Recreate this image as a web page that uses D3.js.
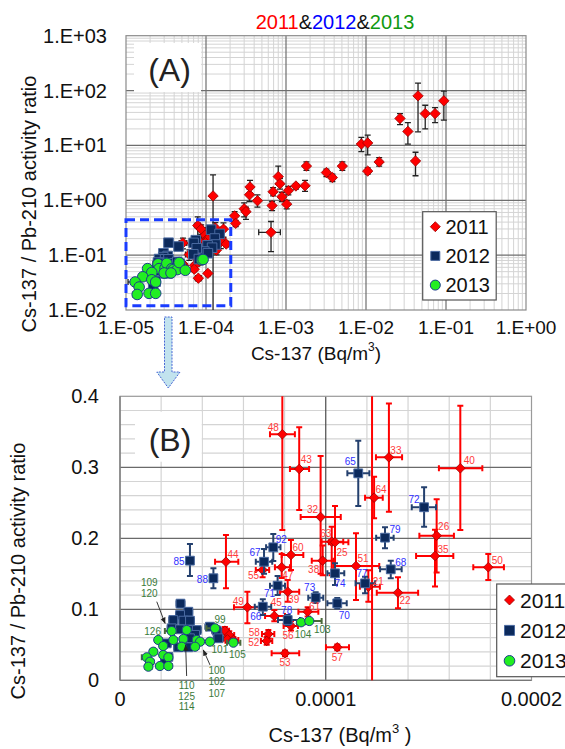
<!DOCTYPE html>
<html><head><meta charset="utf-8">
<script src="https://cdn.jsdelivr.net/npm/d3@7"></script>
<style>
body{margin:0;background:#fff}
svg{display:block}
text{font-family:"Liberation Sans",Arial,Helvetica,sans-serif}
</style>
</head><body>
<svg id="chart" width="565" height="749"></svg>
<script>
// ---------------- DATA ----------------
const years = ["2011", "2012", "2013"];
// rows: [label, x (Bq/m3), y (ratio), xLo, xHi, yLo, yHi]  (null = no error bar)
const data2011 = [
  ["48", 78.9e-6, 0.3465, 72.9e-6, 85.0e-6, 0.2117, 0.50],
  ["43", 87.1e-6, 0.2976, 82.6e-6, 91.9e-6, 0.2399, 0.3563],
  ["32", 97.5e-6, 0.230, 87.8e-6, 107.3e-6, 0.150, 0.3159],
  ["63", 102.9e-6, 0.1952, 98.0e-6, 108.5e-6, 0.148, 0.2163],
  ["25", 104.5e-6, 0.1944, 101.5e-6, 111.0e-6, 0.150, 0.2455],
  ["38", 98.5e-6, 0.1685, 93.2e-6, 103.7e-6, 0.148, 0.190],
  ["51", 114.7e-6, 0.161, 103.7e-6, 126.0e-6, 0.113, 0.207],
  ["64", 123.5e-6, 0.2572, 119.1e-6, 127.7e-6, 0.2282, 0.2868],
  ["33", 130.7e-6, 0.314, 124.4e-6, 137.1e-6, 0.2375, 0.390],
  ["40", 165.4e-6, 0.2986, 155.0e-6, 176.1e-6, 0.2117, 0.3868],
  ["26", 153.9e-6, 0.2037, 145.5e-6, 162.3e-6, 0.152, 0.2549],
  ["35", 153.1e-6, 0.1751, 143.9e-6, 162.0e-6, 0.132, 0.212],
  ["50", 179.0e-6, 0.1592, 171.7e-6, 186.6e-6, 0.1413, 0.1779],
  ["22", 135.1e-6, 0.1234, 124.8e-6, 144.9e-6, 0.1014, 0.1451],
  ["21", 120.7e-6, 0.1318, 116.6e-6, 126.3e-6, 0.1107, 0.155],
  ["60", 83.1e-6, 0.1765, 78.6e-6, 89.1e-6, 0.1554, 0.1976],
  ["55", 69.3e-6, 0.1554, 66.0e-6, 72.5e-6, 0.145, 0.166],
  ["47", 78.6e-6, 0.1592, 75.3e-6, 82.6e-6, 0.144, 0.178],
  ["39", 81.5e-6, 0.1248, 77.8e-6, 87.1e-6, 0.1107, 0.1413],
  ["45", 75.0e-6, 0.0906, 70.5e-6, 80.2e-6, 0.083, 0.099],
  ["61", 91.2e-6, 0.0966, 86.7e-6, 96.4e-6, 0.090, 0.103],
  ["56", 83.1e-6, 0.0765, 79.5e-6, 86.5e-6, 0.070, 0.083],
  ["58", 72.1e-6, 0.0652, 69.0e-6, 75.0e-6, 0.059, 0.071],
  ["52", 71.3e-6, 0.0554, 68.5e-6, 74.0e-6, 0.050, 0.061],
  ["53", 80.2e-6, 0.038, 73.7e-6, 87.1e-6, 0.034, 0.042],
  ["57", 105.6e-6, 0.0465, 100.1e-6, 111.3e-6, 0.0425, 0.0505],
  ["49", 61.9e-6, 0.1028, 55.4e-6, 68.0e-6, 0.0803, 0.1248],
  ["44", 51.5e-6, 0.167, 46.2e-6, 57.5e-6, 0.1296, 0.2046],
  ["", 51.0e-6, 0.0699, 49.0e-6, 53.0e-6, 0.065, 0.075],
  ["", 53.1e-6, 0.0638, 51.0e-6, 55.5e-6, 0.059, 0.069],
  ["", 52.2e-6, 0.0577, 50.0e-6, 54.5e-6, 0.053, 0.062],
  ["", 55.1e-6, 0.0568, 53.0e-6, 57.5e-6, 0.052, 0.061],
  ["", 122.5e-6, 1.2, null, null, -1, 2.9],
  ["", 2.28e-4, 0.52, null, null, 0.41, 0.62],
  ["", 2.35e-4, 0.38, null, null, 0.33, 0.43],
  ["", 3.0e-4, 0.70, null, null, 0.50, 0.90],
  ["", 3.16e-4, 0.62, null, null, 0.45, 0.75],
  ["", 3.5e-4, 1.26, null, null, 0.95, 1.6],
  ["", 3.55e-4, 1.75, null, null, 1.35, 2.3],
  ["", 4.4e-4, 0.98, null, null, 0.75, 1.25],
  ["", 6.7e-4, 0.80, null, null, 0.65, 0.95],
  ["", 6.5e-4, 0.26, 4.56e-4, 8.5e-4, 0.116, 0.41],
  ["", 6.9e-4, 1.43, null, null, 1.2, 1.7],
  ["", 8.0e-4, 2.7, null, null, 2.0, 4.2],
  ["", 8.4e-4, 2.0, null, null, 1.6, 2.5],
  ["", 8.9e-4, 1.16, null, null, 0.95, 1.4],
  ["", 1.02e-3, 0.85, null, null, 0.7, 1.0],
  ["", 1.07e-3, 1.5, null, null, 1.25, 1.8],
  ["", 1.33e-3, 1.82, null, null, 1.6, 2.0],
  ["", 1.73e-3, 1.84, null, null, 1.45, 2.3],
  ["", 1.8e-3, 4.2, null, null, 3.5, 5.0],
  ["", 3.2e-3, 3.2, null, null, 2.7, 3.7],
  ["", 3.8e-3, 2.6, null, null, 2.2, 3.0],
  ["", 5.06e-3, 4.2, null, null, 3.5, 5.0],
  ["", 8.75e-3, 10.6, null, null, 7.7, 14],
  ["", 1.05e-2, 11.1, null, null, 6.7, 15.4],
  ["", 1.05e-2, 3.4, null, null, 3.0, 3.9],
  ["", 1.46e-2, 5.0, null, null, 4.2, 6.0],
  ["", 2.66e-2, 31, null, null, 24, 38],
  ["", 3.34e-2, 18, null, null, 10.6, 26],
  ["", 4.16e-2, 5.2, null, null, 2.8, 7.5],
  ["", 4.47e-2, 80, null, null, 17.7, 137],
  ["", 5.5e-2, 38, null, null, 20, 54],
  ["", 7.3e-2, 38, null, null, 26, 49],
  ["", 9.4e-2, 65, null, null, 29, 98]
];
const data2012 = [
  ["65", 115.8e-6, 0.2915, 110.5e-6, 121.2e-6, 0.2455, 0.3375],
  ["72", 147.8e-6, 0.2437, 141.8e-6, 153.6e-6, 0.2163, 0.2718],
  ["79", 128.8e-6, 0.2009, 124.5e-6, 133.0e-6, 0.186, 0.2155],
  ["68", 131.6e-6, 0.1563, 126.4e-6, 136.9e-6, 0.1437, 0.1685],
  ["92", 74.5e-6, 0.1873, 71.0e-6, 78.0e-6, 0.168, 0.206],
  ["67", 70.0e-6, 0.167, 66.0e-6, 74.0e-6, 0.150, 0.185],
  ["74", 104.5e-6, 0.1507, 100.8e-6, 109.0e-6, 0.1342, 0.1648],
  ["77", 119.1e-6, 0.1366, 114.5e-6, 124.0e-6, 0.1225, 0.146],
  ["73", 95.1e-6, 0.1164, 91.5e-6, 98.8e-6, 0.109, 0.124],
  ["70", 105.6e-6, 0.1084, 100.8e-6, 110.2e-6, 0.101, 0.116],
  ["71", 76.6e-6, 0.1333, 72.9e-6, 80.2e-6, 0.120, 0.147],
  ["66", 69.4e-6, 0.1037, 65.5e-6, 73.5e-6, 0.092, 0.114],
  ["78", 81.5e-6, 0.0849, 76.8e-6, 87.5e-6, 0.078, 0.092],
  ["85", 34.0e-6, 0.1685, null, null, 0.1469, 0.192],
  ["88", 45.4e-6, 0.1437, null, null, 0.1296, 0.1577],
  ["", 29.4e-6, 0.108, 27.5e-6, 31.3e-6, 0.103, 0.113],
  ["", 33.2e-6, 0.0966, 31.3e-6, 35.1e-6, 0.092, 0.101],
  ["", 29.2e-6, 0.092, 27.3e-6, 31.1e-6, 0.088, 0.096],
  ["", 25.9e-6, 0.0849, 24.0e-6, 27.8e-6, 0.081, 0.089],
  ["", 30.8e-6, 0.084, 28.9e-6, 32.7e-6, 0.080, 0.088],
  ["", 34.0e-6, 0.084, 32.1e-6, 35.9e-6, 0.080, 0.088],
  ["", 25.1e-6, 0.0732, 23.2e-6, 27.0e-6, 0.069, 0.077],
  ["", 29.2e-6, 0.0718, 27.3e-6, 31.1e-6, 0.068, 0.076],
  ["", 33.2e-6, 0.0708, 31.3e-6, 35.1e-6, 0.067, 0.075],
  ["", 37.3e-6, 0.0708, 35.4e-6, 39.2e-6, 0.067, 0.075],
  ["", 36.5e-6, 0.064, 34.6e-6, 38.4e-6, 0.060, 0.068],
  ["", 34.0e-6, 0.0592, 32.1e-6, 35.9e-6, 0.055, 0.063],
  ["", 28.3e-6, 0.0465, 26.4e-6, 30.2e-6, 0.043, 0.050],
  ["", 33.2e-6, 0.0465, 31.3e-6, 35.1e-6, 0.043, 0.050],
  ["", 22.7e-6, 0.052, 20.8e-6, 24.6e-6, 0.048, 0.056],
  ["", 23.5e-6, 0.033, 21.6e-6, 25.4e-6, 0.030, 0.036],
  ["", 21.9e-6, 0.0286, 20.0e-6, 23.8e-6, 0.026, 0.031],
  ["", 43.7e-6, 0.0755, 41.5e-6, 45.9e-6, 0.071, 0.080],
  ["", 47.0e-6, 0.0699, 44.8e-6, 49.2e-6, 0.066, 0.074],
  ["", 47.8e-6, 0.0592, 45.6e-6, 50.0e-6, 0.055, 0.063]
];
const data2013 = [
  ["126", 25.1e-6, 0.0694, 21.8e-6, 27.0e-6, 0.066, 0.073],
  ["", 18.6e-6, 0.0568, 17.0e-6, 20.2e-6, 0.054, 0.060],
  ["", 25.9e-6, 0.0568, 24.3e-6, 27.5e-6, 0.054, 0.060],
  ["", 30.8e-6, 0.0582, 29.2e-6, 32.4e-6, 0.055, 0.061],
  ["", 32.4e-6, 0.0708, 30.8e-6, 34.0e-6, 0.068, 0.074],
  ["", 37.3e-6, 0.0568, 35.7e-6, 38.9e-6, 0.054, 0.060],
  ["", 38.9e-6, 0.0544, 37.3e-6, 40.5e-6, 0.052, 0.057],
  ["101", 43.7e-6, 0.0544, 42.1e-6, 45.3e-6, 0.052, 0.057],
  ["99", 46.2e-6, 0.0732, 42.0e-6, 48.0e-6, 0.070, 0.076],
  ["105", 55.1e-6, 0.0530, 52.0e-6, 58.5e-6, 0.050, 0.056],
  ["", 21.0e-6, 0.0483, 19.4e-6, 22.6e-6, 0.046, 0.051],
  ["", 30.0e-6, 0.0473, 28.4e-6, 31.6e-6, 0.045, 0.050],
  ["", 36.5e-6, 0.0473, 34.9e-6, 38.1e-6, 0.045, 0.050],
  ["", 16.2e-6, 0.0403, 14.6e-6, 17.8e-6, 0.038, 0.043],
  ["", 21.0e-6, 0.0356, 19.4e-6, 22.6e-6, 0.033, 0.038],
  ["", 13.0e-6, 0.0324, 10.6e-6, 14.6e-6, 0.030, 0.035],
  ["", 23.5e-6, 0.0324, 21.9e-6, 25.1e-6, 0.030, 0.035],
  ["", 14.6e-6, 0.0262, 13.0e-6, 16.2e-6, 0.024, 0.028],
  ["", 13.8e-6, 0.0192, 12.2e-6, 15.4e-6, 0.017, 0.021],
  ["", 19.4e-6, 0.0201, 17.8e-6, 21.0e-6, 0.018, 0.022],
  ["", 23.5e-6, 0.0201, 21.9e-6, 25.1e-6, 0.018, 0.022],
  ["104", 88.0e-6, 0.0817, 86.0e-6, 90.0e-6, 0.079, 0.084],
  ["103", 92.0e-6, 0.0835, 88.0e-6, 98.0e-6, 0.081, 0.086]
];
// grouped annotations (labels with arrows) for 2013 points
const annotLabels = [["109", "120"], ["110", "125", "114"], ["100", "102", "107"]];
const annotTargets = [[21.9e-6, 0.0803], [31.9e-6, 0.0497], [40.5e-6, 0.0427]];
// tick values / labels
const xTicksA = [1e-5, 1e-4, 1e-3, 1e-2, 1e-1, 1];
const xTickLabelsA = ["1.E-05", "1.E-04", "1.E-03", "1.E-02", "1.E-01", "1.E+00"];
const yTicksA = [1e-2, 1e-1, 1, 10, 100, 1000];
const yTickLabelsA = ["1.E-02", "1.E-01", "1.E+00", "1.E+01", "1.E+02", "1.E+03"];
const xTicksB = [0, 0.0001, 0.0002];
const xTickLabelsB = ["0", "0.0001", "0.0002"];
const yTicksB = [0, 0.1, 0.2, 0.3, 0.4];
const yTickLabelsB = ["0", "0.1", "0.2", "0.3", "0.4"];
// zoom region box of panel A (data coords)
const zoomBoxX = [1e-5, 2.04e-4];
const zoomBoxY = [0.012, 0.44];

// ---------------- STYLE / LAYOUT ----------------
const seriesStyle = {
  "2011": {shape: "diamond", fill: "#ff0000", stroke: "#9a0000", errB: "#ff0000", label: "#ff3a3a"},
  "2012": {shape: "square", fill: "#0c2a5c", stroke: "#4a6aa0", errB: "#24406e", label: "#3030ff"},
  "2013": {shape: "circle", fill: "#22ee22", stroke: "#1c3c8c", errB: "#4a6a3a", label: "#3a7a3a"}
};
// label offsets (dx, dy) relative to marker, px
const labelOffset = {
  "2011": {"48":[-9,-7],"43":[7,-10],"32":[-8,-8],"63":[-6,-8],"25":[7,10],"38":[-9,9],"51":[7,-7],
    "64":[7,-8],"33":[7,-7],"40":[9,-8],"26":[7,-9],"35":[8,-6],"50":[9,-7],"22":[7,8],"21":[10,-5],
    "60":[7,-7],"55":[-9,6],"47":[6,8],"39":[6,8],"45":[2,-13],"61":[7,-5],"56":[-3,10],"58":[-14,-2],
    "52":[-13,2],"53":[0,9],"57":[0,10],"49":[-9,-6],"44":[7,-7]},
  "2012": {"65":[-8,-12],"72":[-10,-8],"79":[10,-8],"68":[10,-7],"92":[8,-8],"67":[-9,-9],"74":[5,10],
    "77":[-3,-10],"73":[-6,-10],"70":[7,12],"71":[-8,8],"66":[-7,10],"78":[-1,-10],"85":[-11,1],"88":[-11,1]},
  "2013": {"126":[-19,0],"99":[5,-9],"101":[10,8],"105":[4,12],"104":[2,12],"103":[13,8]}
};
const annotLayout = [ // text anchor (offset from target), arrow start offset
  {tx: -15.7, ty: -40.6, lineH: 10.6, ax: -8.3, ay: -21.6},
  {tx: 1.0, ty: 40.7, lineH: 10.5, ax: 1.0, ay: 31},
  {tx: 13.4, ty: 20.7, lineH: 11.3, ax: 6.7, ay: 15}
];

const svg = d3.select("#chart");
const seriesData = {"2011": data2011, "2012": data2012, "2013": data2013};
const rows = arr => arr.map(r => ({label: r[0], x: r[1], y: r[2], xlo: r[3], xhi: r[4], ylo: r[5], yhi: r[6]}));

const defs = svg.append("defs");
defs.append("marker").attr("id", "ah").attr("viewBox", "0 0 10 10").attr("refX", 9).attr("refY", 5)
  .attr("markerWidth", 7).attr("markerHeight", 7).attr("orient", "auto-start-reverse")
  .append("path").attr("d", "M0,1 L10,5 L0,9 Z").attr("fill", "#222");

function markerPath(shape, s) {
  if (shape === "diamond") return `M0,${-s}L${s},0L0,${s}L${-s},0Z`;
  if (shape === "square") return `M${-s},${-s}H${s}V${s}H${-s}Z`;
  return null;
}
function drawMarker(g, shape, x, y, size, st) {
  if (shape === "circle") {
    g.append("circle").attr("cx", x).attr("cy", y).attr("r", size)
      .attr("fill", st.fill).attr("stroke", st.stroke).attr("stroke-width", 1);
  } else {
    g.append("path").attr("transform", `translate(${x},${y})`).attr("d", markerPath(shape, size))
      .attr("fill", st.fill).attr("stroke", st.stroke).attr("stroke-width", shape === "square" ? 1 : 0.8);
  }
}

// ---------------- PANEL A (log-log) ----------------
const xA = d3.scaleLog().domain([1e-5, 1]).range([126, 526]);
const yA = d3.scaleLog().domain([0.01, 1000]).range([310, 35.7]);
const gA = svg.append("g");
defs.append("clipPath").attr("id", "clipA").append("rect")
  .attr("x", 126).attr("y", 35.7).attr("width", 400).attr("height", 274.3);

gA.append("rect").attr("x", 126).attr("y", 35.7).attr("width", 400).attr("height", 274.3).attr("fill", "#fff");
// minor grid
const minorX = [], minorY = [];
for (let e = -5; e < 0; e++) for (let k = 2; k <= 9; k++) minorX.push(k * Math.pow(10, e));
for (let e = -2; e < 3; e++) for (let k = 2; k <= 9; k++) minorY.push(k * Math.pow(10, e));
gA.append("g").selectAll("line").data(minorX).join("line")
  .attr("x1", d => xA(d)).attr("x2", d => xA(d)).attr("y1", 35.7).attr("y2", 310)
  .attr("stroke", "#d4d4d4").attr("stroke-width", 1);
gA.append("g").selectAll("line").data(minorY).join("line")
  .attr("y1", d => yA(d)).attr("y2", d => yA(d)).attr("x1", 126).attr("x2", 526)
  .attr("stroke", "#d4d4d4").attr("stroke-width", 1);
gA.append("g").selectAll("line").data(xTicksA.slice(1, -1)).join("line")
  .attr("x1", d => xA(d)).attr("x2", d => xA(d)).attr("y1", 35.7).attr("y2", 310)
  .attr("stroke", "#6e6e6e").attr("stroke-width", 1.2);
gA.append("g").selectAll("line").data(yTicksA.slice(1, -1)).join("line")
  .attr("y1", d => yA(d)).attr("y2", d => yA(d)).attr("x1", 126).attr("x2", 526)
  .attr("stroke", "#6e6e6e").attr("stroke-width", 1.2);
gA.append("rect").attr("x", 126).attr("y", 35.7).attr("width", 400).attr("height", 274.3)
  .attr("fill", "none").attr("stroke", "#8a8a8a").attr("stroke-width", 1.2);

// (A) label box
gA.append("rect").attr("x", 134).attr("y", 43).attr("width", 67).attr("height", 49).attr("fill", "#fff");
gA.append("text").attr("x", 169.5).attr("y", 70).attr("text-anchor", "middle").attr("dominant-baseline", "central")
  .attr("font-size", 32).attr("fill", "#222").text("(A)");

// error bars + markers A
const plotA = gA.append("g").attr("clip-path", "url(#clipA)");
years.forEach(yr => {
  const st = seriesStyle[yr];
  const d = rows(seriesData[yr]);
  const eg = plotA.append("g").attr("stroke", "#222").attr("stroke-width", 1.3);
  d.forEach(p => {
    const cx = xA(p.x), cy = yA(p.y);
    if (p.ylo !== null) {
      const y1 = p.ylo > 0 ? yA(p.ylo) : 330, y2 = yA(p.yhi);
      eg.append("line").attr("x1", cx).attr("x2", cx).attr("y1", y1).attr("y2", y2);
      if (p.ylo > 0) eg.append("line").attr("x1", cx - 3).attr("x2", cx + 3).attr("y1", y1).attr("y2", y1);
      eg.append("line").attr("x1", cx - 3).attr("x2", cx + 3).attr("y1", y2).attr("y2", y2);
    }
    if (p.xlo !== null) {
      const x1 = xA(p.xlo), x2 = xA(p.xhi);
      eg.append("line").attr("x1", x1).attr("x2", x2).attr("y1", cy).attr("y2", cy);
      eg.append("line").attr("x1", x1).attr("x2", x1).attr("y1", cy - 3).attr("y2", cy + 3);
      eg.append("line").attr("x1", x2).attr("x2", x2).attr("y1", cy - 3).attr("y2", cy + 3);
    }
  });
  const mg = plotA.append("g");
  const size = st.shape === "diamond" ? 5.2 : st.shape === "square" ? 4.8 : 5.3;
  d.forEach(p => drawMarker(mg, st.shape, xA(p.x), yA(p.y), size, st));
});

// zoom box
gA.append("rect").attr("x", xA(zoomBoxX[0])).attr("y", yA(zoomBoxY[1]))
  .attr("width", xA(zoomBoxX[1]) - xA(zoomBoxX[0])).attr("height", yA(zoomBoxY[0]) - yA(zoomBoxY[1]))
  .attr("fill", "none").attr("stroke", "#1a3cff").attr("stroke-width", 3).attr("stroke-dasharray", "9,5");

// axes labels A
gA.append("g").selectAll("text").data(yTicksA).join("text")
  .attr("x", 107).attr("y", d => yA(d)).attr("text-anchor", "end").attr("dominant-baseline", "central")
  .attr("font-size", 20).attr("fill", "#111").text((d, i) => yTickLabelsA[i]);
gA.append("g").selectAll("text").data(xTicksA).join("text")
  .attr("x", d => xA(d)).attr("y", 327).attr("text-anchor", "middle").attr("dominant-baseline", "central")
  .attr("font-size", 19).attr("fill", "#111").text((d, i) => xTickLabelsA[i]);
const xtA = gA.append("text").attr("x", 316).attr("y", 353).attr("text-anchor", "middle")
  .attr("dominant-baseline", "central").attr("font-size", 19).attr("fill", "#111");
xtA.append("tspan").text("Cs-137 (Bq/m");
xtA.append("tspan").attr("font-size", 12).attr("dy", -6).text("3");
xtA.append("tspan").attr("dy", 6).text(")");
gA.append("text").attr("transform", "translate(29,204) rotate(-90)").attr("text-anchor", "middle")
  .attr("dominant-baseline", "central").attr("font-size", 20).attr("fill", "#111")
  .text("Cs-137 / Pb-210 activity ratio");

// title
const title = svg.append("text").attr("x", 335).attr("y", 22).attr("text-anchor", "middle")
  .attr("dominant-baseline", "central").attr("font-size", 20);
const titleColors = ["#ff0000", "#0000ff", "#119911"];
years.forEach((yr, i) => {
  title.append("tspan").attr("fill", titleColors[i]).text(yr);
  if (i < years.length - 1) title.append("tspan").attr("fill", "#111").text("&");
});

// legend A
const legA = svg.append("g");
legA.append("rect").attr("x", 422.7).attr("y", 211.7).attr("width", 73.5).attr("height", 88.3)
  .attr("fill", "#fff").attr("stroke", "#555").attr("stroke-width", 1.2);
years.forEach((yr, i) => {
  const st = seriesStyle[yr];
  const yy = 226.7 + i * 29.2;
  drawMarker(legA, st.shape, 435.3, yy, st.shape === "diamond" ? 5 : st.shape === "square" ? 4.5 : 5, st);
  legA.append("text").attr("x", 445.5).attr("y", yy).attr("dominant-baseline", "central")
    .attr("font-size", 20).attr("fill", "#111").text(yr);
});

// arrow between panels
svg.append("path")
  .attr("d", "M164.5,317 H172 V372 H180 L168.3,388 L156.8,372 H164.5 Z")
  .attr("fill", "#c2e3ee").attr("stroke", "#3456d0").attr("stroke-width", 0.9).attr("stroke-dasharray", "2,1.2");

// ---------------- PANEL B (linear) ----------------
const xB = d3.scaleLinear().domain([0, 0.0002]).range([120, 531.5]);
const yB = d3.scaleLinear().domain([0, 0.4]).range([680.3, 396.3]);
const gB = svg.append("g");
defs.append("clipPath").attr("id", "clipB").append("rect")
  .attr("x", 120).attr("y", 396.3).attr("width", 411.5).attr("height", 284);
gB.append("rect").attr("x", 120).attr("y", 396.3).attr("width", 411.5).attr("height", 284).attr("fill", "#fff");
const minorXB = d3.range(1, 10).map(i => i * 0.00002).filter(v => Math.abs(v - 0.0001) > 1e-9);
const minorYB = d3.range(1, 20).map(i => i * 0.02).filter(v => Math.abs((v * 10) - Math.round(v * 10)) > 1e-6);
gB.append("g").selectAll("line").data(minorXB).join("line")
  .attr("x1", d => xB(d)).attr("x2", d => xB(d)).attr("y1", 396.3).attr("y2", 680.3)
  .attr("stroke", "#d4d4d4").attr("stroke-width", 1.2);
gB.append("g").selectAll("line").data(minorYB).join("line")
  .attr("y1", d => yB(d)).attr("y2", d => yB(d)).attr("x1", 120).attr("x2", 531.5)
  .attr("stroke", "#d4d4d4").attr("stroke-width", 1.2);
gB.append("g").selectAll("line").data(yTicksB.slice(1, -1)).join("line")
  .attr("y1", d => yB(d)).attr("y2", d => yB(d)).attr("x1", 120).attr("x2", 531.5)
  .attr("stroke", "#6a6a6a").attr("stroke-width", 1.2);
gB.append("line").attr("x1", xB(0.0001)).attr("x2", xB(0.0001)).attr("y1", 396.3).attr("y2", 680.3)
  .attr("stroke", "#4a4a4a").attr("stroke-width", 1.2);
gB.append("rect").attr("x", 120).attr("y", 396.3).attr("width", 411.5).attr("height", 284)
  .attr("fill", "none").attr("stroke", "#9a9a9a").attr("stroke-width", 1.2);
gB.append("line").attr("x1", 120).attr("x2", 120).attr("y1", 396.3).attr("y2", 680.3).attr("stroke", "#777").attr("stroke-width", 1.3);
gB.append("line").attr("x1", 120).attr("x2", 531.5).attr("y1", 680.3).attr("y2", 680.3).attr("stroke", "#777").attr("stroke-width", 1.3);

// (B) label box
gB.append("rect").attr("x", 135).attr("y", 411.7).attr("width", 66.7).attr("height", 50).attr("fill", "#fff");
gB.append("text").attr("x", 170).attr("y", 440).attr("text-anchor", "middle").attr("dominant-baseline", "central")
  .attr("font-size", 32).attr("fill", "#222").text("(B)");

const plotB = gB.append("g").attr("clip-path", "url(#clipB)");
const labelsB = gB.append("g");
years.forEach(yr => {
  const st = seriesStyle[yr];
  const d = rows(seriesData[yr]);
  const eg = plotB.append("g").attr("stroke", st.errB).attr("stroke-width", 2);
  d.forEach(p => {
    const cx = xB(p.x), cy = yB(p.y);
    if (p.ylo !== null) {
      const y1 = yB(Math.max(p.ylo, -0.05)), y2 = yB(p.yhi);
      eg.append("line").attr("x1", cx).attr("x2", cx).attr("y1", y1).attr("y2", y2);
      eg.append("line").attr("x1", cx - 3).attr("x2", cx + 3).attr("y1", y1).attr("y2", y1);
      eg.append("line").attr("x1", cx - 3).attr("x2", cx + 3).attr("y1", y2).attr("y2", y2);
    }
    if (p.xlo !== null) {
      const x1 = xB(p.xlo), x2 = xB(p.xhi);
      eg.append("line").attr("x1", x1).attr("x2", x2).attr("y1", cy).attr("y2", cy);
      eg.append("line").attr("x1", x1).attr("x2", x1).attr("y1", cy - 3).attr("y2", cy + 3);
      eg.append("line").attr("x1", x2).attr("x2", x2).attr("y1", cy - 3).attr("y2", cy + 3);
    }
  });
  const mg = plotB.append("g");
  const size = st.shape === "diamond" ? 4.8 : st.shape === "square" ? 4.4 : 4.6;
  d.forEach(p => drawMarker(mg, st.shape, xB(p.x), yB(p.y), size, st));
  d.filter(p => p.label && labelOffset[yr][p.label] && p.y <= 0.4 && p.x <= 0.0002).forEach(p => {
    const o = labelOffset[yr][p.label];
    labelsB.append("text").attr("x", xB(p.x) + o[0]).attr("y", yB(p.y) + o[1])
      .attr("text-anchor", "middle").attr("dominant-baseline", "central")
      .attr("font-size", 10).attr("fill", st.label).text(p.label);
  });
});

// grouped annotations
annotLabels.forEach((lines, i) => {
  const t = annotTargets[i], L = annotLayout[i];
  const px = xB(t[0]), py = yB(t[1]);
  gB.append("line").attr("x1", px + L.ax).attr("y1", py + L.ay).attr("x2", px).attr("y2", py)
    .attr("stroke", "#222").attr("stroke-width", 0.9).attr("marker-end", "url(#ah)");
  lines.forEach((s, j) => {
    gB.append("text").attr("x", px + L.tx).attr("y", py + L.ty + j * L.lineH)
      .attr("text-anchor", "middle").attr("dominant-baseline", "central")
      .attr("font-size", 10).attr("fill", seriesStyle["2013"].label).text(s);
  });
});

// axes labels B
gB.append("g").selectAll("text").data(yTicksB).join("text")
  .attr("x", 99).attr("y", d => yB(d)).attr("text-anchor", "end").attr("dominant-baseline", "central")
  .attr("font-size", 20).attr("fill", "#111").text((d, i) => yTickLabelsB[i]);
gB.append("g").selectAll("text").data(xTicksB).join("text")
  .attr("x", d => xB(d)).attr("y", 699).attr("text-anchor", "middle").attr("dominant-baseline", "central")
  .attr("font-size", 20).attr("fill", "#111").text((d, i) => xTickLabelsB[i]);
const xtB = gB.append("text").attr("x", 340).attr("y", 735).attr("text-anchor", "middle")
  .attr("dominant-baseline", "central").attr("font-size", 20).attr("fill", "#111");
xtB.append("tspan").text("Cs-137 (Bq/m");
xtB.append("tspan").attr("font-size", 13).attr("dy", -7).text("3");
xtB.append("tspan").attr("dy", 7).text(" )");
gB.append("text").attr("transform", "translate(18,571) rotate(-90)").attr("text-anchor", "middle")
  .attr("dominant-baseline", "central").attr("font-size", 20).attr("fill", "#111")
  .text("Cs-137 / Pb-210 activity ratio");

// legend B
const legB = svg.append("g");
legB.append("rect").attr("x", 496.7).attr("y", 584).attr("width", 90).attr("height", 92.7)
  .attr("fill", "#fff").attr("stroke", "#555").attr("stroke-width", 1.2);
years.forEach((yr, i) => {
  const st = seriesStyle[yr];
  const yy = 600 + i * 30.4;
  drawMarker(legB, st.shape, 509.5, yy, st.shape === "diamond" ? 5 : st.shape === "square" ? 5 : 5.3, st);
  legB.append("text").attr("x", 520).attr("y", yy).attr("dominant-baseline", "central")
    .attr("font-size", 21).attr("fill", "#111").text(yr);
});
</script>
</body></html>
